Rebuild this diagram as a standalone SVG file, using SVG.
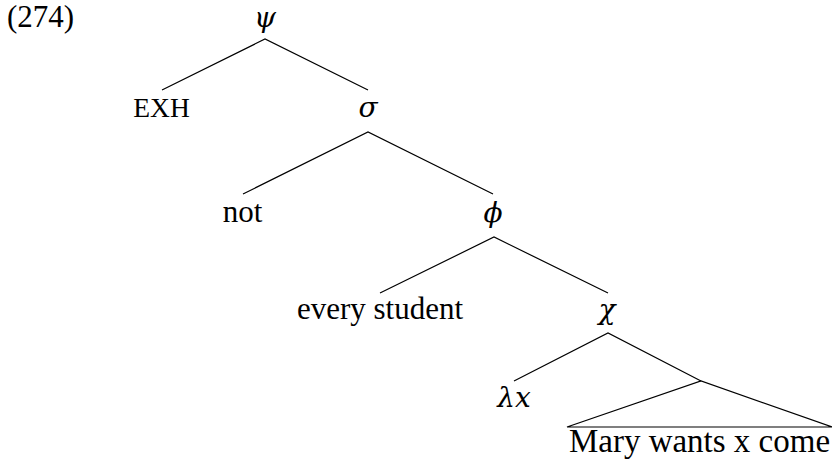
<svg xmlns="http://www.w3.org/2000/svg" width="832" height="468" viewBox="0 0 832 468">
<style>
text{font-family:"Liberation Serif","Times New Roman",serif;font-size:31px;fill:#000;text-anchor:middle}
.g{font-family:"DejaVu Serif","Liberation Serif",serif;font-style:italic;font-size:28px}
.sc{font-size:27.5px}
.e{stroke:#000;stroke-width:1.2;fill:none}
</style>
<rect width="832" height="468" fill="#fff"/>
<text x="7" y="27" style="text-anchor:start">(274)</text>
<g id="psi"><text class="g" x="265" y="27">ψ</text></g>
<g id="exh"><text class="sc" x="161.5" y="117">EXH</text></g>
<g id="sigma"><text class="g" x="368" y="117">σ</text></g>
<g id="not"><text x="242.5" y="222">not</text></g>
<g id="phi"><text class="g" x="493" y="222">ϕ</text></g>
<g id="every-student"><text x="380" y="319">every student</text></g>
<g id="chi"><text class="g" x="607" y="319">χ</text></g>
<g id="lambda-x"><text class="g" x="514" y="407">λx</text></g>
<g id="mary"><text x="699.5" y="452" style="font-size:33px">Mary wants x come</text></g>
<g id="connectors">
<path class="e" d="M162 90L265 39L368 90"/>
<path class="e" d="M243 194L368 132L493 194"/>
<path class="e" d="M380 293L494 237L608 293"/>
<path class="e" d="M514 381L608 333L701 381"/>
<path class="e" d="M567 427L701 381L832 427Z"/>
</g>
</svg>
